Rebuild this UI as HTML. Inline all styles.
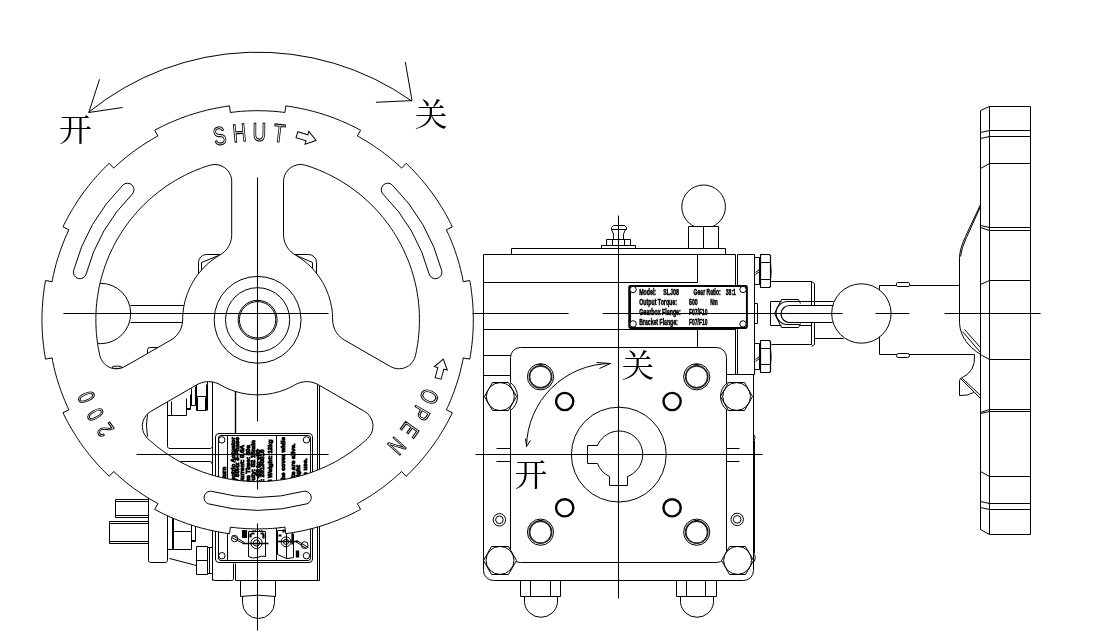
<!DOCTYPE html>
<html lang="zh"><head><meta charset="utf-8"><title>手轮蜗轮箱 开/关</title>
<style>
html,body{margin:0;padding:0;background:#fff}
body{width:1096px;height:642px;overflow:hidden;font-family:"Liberation Sans","Noto Sans CJK SC",sans-serif}
svg{display:block;will-change:transform}
.k{fill:none;stroke:#000;stroke-width:1}
.t{fill:none;stroke:#000;stroke-width:1}
.w{fill:#fff;stroke:#000;stroke-width:1}
.wb{fill:#fff;stroke:#000;stroke-width:1}
.b{fill:none;stroke:#000;stroke-width:1.6}
.c{fill:none;stroke:#000;stroke-width:1.05}
.ol{font-family:"Liberation Sans",sans-serif;fill:#fff;stroke:#000;stroke-width:.95;vector-effect:non-scaling-stroke}
.cn{font-family:"Liberation Serif","Noto Serif CJK SC",serif;font-size:31.5px;fill:#000}
.np{font-family:"Liberation Sans",sans-serif;font-weight:bold;font-size:8.4px;fill:#000;stroke:#000;stroke-width:.5}
.nv{font-family:"Liberation Sans",sans-serif;font-weight:bold;font-size:6.2px;fill:#000;stroke:#000;stroke-width:.9}
</style></head><body>
<svg width="1096" height="642" viewBox="0 0 1096 642">
<rect width="1096" height="642" fill="#fff"/>
<g id="left-back" class="k">
<!-- lever ball + shaft seen through upper-left opening -->
<circle cx="100.5" cy="313.5" r="30.2"/>
<path d="M130.5 305.5H190.5M130.5 322.5H190.5"/>
<!-- gearbox housing corners peeking behind hub -->
<path d="M198.5 330.5V262.5A8 8 0 0 1 206.5 254.5H308.5A8 8 0 0 1 316.5 262.5V330.5"/>
<path d="M201.5 272.5V262.5L218.5 255.5M312.5 272.5V262.5L296.5 255.5"/>
<path d="M147.5 355.5V349.5A2.5 2.5 0 0 1 150.5 347.5H159.5"/>
<ellipse cx="117" cy="367.3" rx="5" ry="1.2"/>
<path d="M147.5 414.5Q145.4 425 147.5 436.5"/>
<!-- actuator body seen through bottom opening -->
<path d="M212.5 380.5V580.5M317.5 380.5V580.5M319.5 380.5V580.5"/><path stroke-width="1.4" d="M235.5 388.5V433.5"/>
<path d="M207.5 380.5V410.5M212.5 446.5Q212.2 448 210.5 448.5H169.5Q167.3 448 167.5 446.5V400.5"/>
<path d="M167.5 415.5H186.5M171.5 415.5V401.5M186.5 415.5V398.5M186.5 409.5H190.5V394.5M186.5 408.5H190.5M191.5 405.5V388.5M195.5 405.5V386.5M190.5 405.5H195.5"/>
<path d="M196.5 384.5V410.5H206.5V384.5M196.5 396.5H206.5M197.5 397.5V410.5M205.5 397.5V410.5"/>
<path d="M180.5 461.5H210.5Q211.6 461.2 211.5 463.5"/>
<!-- name plate (vertical) -->
<clipPath id="npc"><rect x="218.5" y="436.5" width="93" height="90"/></clipPath>
<rect x="215.5" y="433.5" width="97" height="129" rx="3.5" fill="#fff"/>
<rect x="218.5" y="435.5" width="92" height="125" rx="2.5"/>
<path d="M227.5 435.5V560.5M276.5 435.5V560.5"/>
<circle cx="221.8" cy="439.9" r="3.2"/><circle cx="306.4" cy="439.9" r="3.2"/>
<circle cx="221.9" cy="555.7" r="3.2"/><circle cx="306.4" cy="555.7" r="3.2"/>
<g clip-path="url(#npc)">
<text class="nv" text-anchor="end" transform="translate(225.6 466.7) rotate(-90)">Type: SLQ Part-turn</text>
<text class="nv" text-anchor="end" transform="translate(234.6 437.1) rotate(-90)">Model: SLQ-20 Electric Actuator</text>
<text class="nv" text-anchor="end" transform="translate(239 437.1) rotate(-90)">Voltage: AC380V 50Hz 3-Phase</text>
<text class="nv" text-anchor="end" transform="translate(244.4 444.9) rotate(-90)">Power: 0.09kW Current: 0.6A</text>
<text class="nv" text-anchor="end" transform="translate(250.4 445) rotate(-90)">Torque: 200Nm Time: 30s</text>
<text class="nv" text-anchor="end" transform="translate(254.6 440.2) rotate(-90)">Enclosure: IP67 Duty: S2 15min</text>
<text class="nv" text-anchor="end" transform="translate(260 449.6) rotate(-90)">Ambient: -20 to +60</text>
<text class="nv" text-anchor="end" transform="translate(264 449.6) rotate(-90)">Serial No: 20130816</text>
<text class="nv" text-anchor="end" transform="translate(271.6 439.5) rotate(-90)">Date: 2013-08 Weight: 12kg</text>
<text class="nv" text-anchor="end" transform="translate(284.8 437.1) rotate(-90)">Do not open the cover while</text>
<text class="nv" text-anchor="end" transform="translate(294.8 443.4) rotate(-90)">the circuits are alive.</text>
<text class="nv" text-anchor="end" transform="translate(299.6 465.2) rotate(-90)">Keep tight</text>
<text class="nv" text-anchor="end" transform="translate(307.4 458.2) rotate(-90)">when in use.</text>
</g>
<!-- wiring symbols on lower part of plate -->
<circle cx="234.6" cy="538.6" r="3.2"/><path d="M231.5 537.5L243.5 543.5M232.5 535.5L244.5 542.5"/>
<rect x="242.5" y="530.5" width="4" height="7" fill="#000"/>
<path d="M248.5 531.5H265.5V556.5Q261 555.4 257.5 557.5Q252.4 559 248.5 556.5Z"/>
<circle cx="256.5" cy="543" r="5.6"/><circle cx="256.5" cy="543" r="3.1"/>
<path stroke-width="2.2" d="M250.5 533.5V537.5M251.5 533.5H254.5M263.5 533.5V538.5M260.5 533.5H263.5"/>
<path stroke-width="1.2" stroke-dasharray="1.2 1" d="M252.5 530.5H262.5"/>
<path stroke-width="1.5" d="M242.5 543.5H268.5"/>
<path d="M277.5 530.5H289.5L293.5 534.5V557.5Q290 558.4 286.5 558.5L277.5 554.5ZM286.5 531.5V558.5"/>
<circle cx="286" cy="541.8" r="4.9"/><circle cx="286" cy="541.8" r="2.6"/>
<path stroke-width="2.2" d="M278.5 535.5H281.5M283.5 529.5V532.5M292.5 533.5V544.5"/><path stroke-width="3.4" d="M297.5 550.5V557.5"/>
<path stroke-width="1.5" d="M277.5 541.5H298.5"/>
<circle cx="304.7" cy="545.1" r="3.4"/><path d="M296.5 540.5L308.5 547.5M295.5 541.5L306.5 548.5"/>
<!-- body below plate -->
<path d="M212.5 578.5Q212.7 580.4 214.5 580.5H231.5Q233.8 580.4 233.5 578.5V563.5M235.5 563.5V580.5H319.5"/>
<!-- bottom plug -->
<path d="M240.5 580.5V596.5M275.5 580.5V596.5M240.5 596.5Q258 593.8 275.5 596.5M242.5 596.5V602.5A16 16 0 0 0 274.5 602.5V596.5"/>
<!-- cable glands -->
<path d="M148.5 499.5H115.5V517.5H148.5M115.5 501.5H148.5M115.5 515.5H148.5M148.5 521.5H109.5V543.5H148.5M109.5 523.5H148.5M109.5 541.5H148.5"/>
<!-- left lower body -->
<path d="M148.5 495.5V560.5Q148 562 150.5 562.5H165.5Q167.6 562 167.5 560.5V500.5M172.5 500.5V549.5M167.5 549.5H173.5M169.5 558.5L196.5 565.5"/>
<path d="M173.5 505.5V549.5H191.5V505.5M173.5 531.5H191.5M191.5 541.5H195.5V520.5M191.5 540.5H195.5"/>
<path d="M196.5 546.5H207.5V574.5H196.5ZM196.5 560.5H207.5M207.5 547.5H212.5M207.5 573.5H212.5M209.5 547.5V573.5"/>

</g>
<g id="wheel">
<path class="w" fill-rule="evenodd" d="M284.9 112.5 L282.5 112.2 L280 111.9 L277.5 111.6 L275 111.4 L272.6 111.2 L270.1 111.1 L267.6 110.9 L265.1 110.8 L262.6 110.8 L260.1 110.7 L257.6 110.7 L255.2 110.7 L252.7 110.8 L250.2 110.8 L247.7 110.9 L245.2 111.1 L242.7 111.2 L240.3 111.4 L237.8 111.6 L235.3 111.9 L232.8 112.2 L230.4 112.5 L229.5 105.9 L227 106.3 L224.6 106.6 L222.2 107 L219.7 107.5 L217.3 107.9 L214.9 108.4 L212.5 108.9 L210 109.4 L207.6 110 L205.2 110.6 L202.8 111.2 L200.5 111.8 L198.1 112.5 L195.7 113.2 L193.3 113.9 L191 114.7 L188.6 115.4 L186.3 116.2 L184 117.1 L181.7 117.9 L179.4 118.8 L177.1 119.7 L174.8 120.7 L172.5 121.6 L170.2 122.6 L168 123.6 L165.7 124.7 L163.5 125.7 L161.3 126.8 L159.1 127.9 L156.9 129.1 L154.7 130.2 L157.9 136 L155.7 137.2 L153.5 138.5 L151.4 139.7 L149.2 141 L147.1 142.3 L145 143.6 L142.9 145 L140.9 146.4 L138.8 147.8 L136.8 149.2 L134.7 150.6 L132.7 152.1 L130.8 153.6 L128.8 155.1 L126.8 156.7 L124.9 158.2 L123 159.8 L121.1 161.4 L119.2 163.1 L117.4 164.7 L115.5 166.4 L113.7 168.1 L109.2 163.3 L107.4 165 L105.6 166.8 L103.9 168.5 L102.2 170.3 L100.5 172.1 L98.8 173.9 L97.1 175.7 L95.5 177.6 L93.9 179.4 L92.3 181.3 L90.7 183.2 L89.1 185.2 L87.6 187.1 L86.1 189.1 L84.6 191 L83.1 193 L81.7 195 L80.3 197 L78.9 199.1 L77.5 201.1 L76.2 203.2 L74.9 205.3 L73.6 207.4 L72.3 209.5 L71 211.6 L69.8 213.8 L68.6 215.9 L67.4 218.1 L66.3 220.3 L65.1 222.5 L64 224.7 L63 226.9 L68.9 229.8 L67.9 232 L66.8 234.3 L65.8 236.6 L64.8 238.9 L63.9 241.2 L63 243.5 L62.1 245.8 L61.2 248.1 L60.4 250.5 L59.6 252.8 L58.8 255.2 L58 257.6 L57.3 259.9 L56.6 262.3 L55.9 264.7 L55.3 267.1 L54.7 269.5 L54.1 272 L53.5 274.4 L53 276.8 L52.5 279.3 L52.1 281.7 L45.6 280.5 L45.1 282.9 L44.7 285.4 L44.3 287.8 L44 290.2 L43.7 292.7 L43.4 295.1 L43.1 297.6 L42.9 300.1 L42.6 302.5 L42.5 305 L42.3 307.5 L42.2 309.9 L42.1 312.4 L42 314.9 L42 317.3 L41.9 319.8 L42 322.3 L42 324.7 L42.1 327.2 L42.2 329.7 L42.3 332.1 L42.5 334.6 L42.6 337.1 L42.9 339.5 L43.1 342 L43.4 344.5 L43.7 346.9 L44 349.4 L44.3 351.8 L44.7 354.2 L45.1 356.7 L45.6 359.1 L52.1 357.9 L52.5 360.3 L53 362.8 L53.5 365.2 L54.1 367.6 L54.7 370.1 L55.3 372.5 L55.9 374.9 L56.6 377.3 L57.3 379.7 L58 382 L58.8 384.4 L59.6 386.8 L60.4 389.1 L61.2 391.5 L62.1 393.8 L63 396.1 L63.9 398.4 L64.8 400.7 L65.8 403 L66.8 405.3 L67.9 407.6 L68.9 409.8 L63 412.7 L64 414.9 L65.1 417.1 L66.3 419.3 L67.4 421.5 L68.6 423.7 L69.8 425.8 L71 428 L72.3 430.1 L73.6 432.2 L74.9 434.3 L76.2 436.4 L77.5 438.5 L78.9 440.5 L80.3 442.6 L81.7 444.6 L83.1 446.6 L84.6 448.6 L86.1 450.5 L87.6 452.5 L89.1 454.4 L90.7 456.4 L92.3 458.3 L93.9 460.2 L95.5 462 L97.1 463.9 L98.8 465.7 L100.5 467.5 L102.2 469.3 L103.9 471.1 L105.6 472.8 L107.4 474.6 L109.2 476.3 L113.7 471.5 L115.5 473.2 L117.4 474.9 L119.2 476.5 L121.1 478.2 L123 479.8 L124.9 481.4 L126.8 482.9 L128.8 484.5 L130.8 486 L132.7 487.5 L134.7 489 L136.8 490.4 L138.8 491.8 L140.9 493.2 L142.9 494.6 L145 496 L147.1 497.3 L149.2 498.6 L151.4 499.9 L153.5 501.1 L155.7 502.4 L157.9 503.6 L154.7 509.4 L156.9 510.5 L159.1 511.7 L161.3 512.8 L163.5 513.9 L165.7 514.9 L168 516 L170.2 517 L172.5 518 L174.8 518.9 L177.1 519.9 L179.4 520.8 L181.7 521.7 L184 522.5 L186.3 523.4 L188.6 524.2 L191 524.9 L193.3 525.7 L195.7 526.4 L198.1 527.1 L200.5 527.8 L202.8 528.4 L205.2 529 L207.6 529.6 L210 530.2 L212.5 530.7 L214.9 531.2 L217.3 531.7 L219.7 532.1 L222.2 532.6 L224.6 533 L227 533.3 L229.5 533.7 L230.4 527.1 L232.8 527.4 L235.3 527.7 L237.8 528 L240.3 528.2 L242.7 528.4 L245.2 528.5 L247.7 528.7 L250.2 528.8 L252.7 528.8 L255.2 528.9 L257.6 528.9 L260.1 528.9 L262.6 528.8 L265.1 528.8 L267.6 528.7 L270.1 528.5 L272.6 528.4 L275 528.2 L277.5 528 L280 527.7 L282.5 527.4 L284.9 527.1 L285.8 533.7 L288.3 533.3 L290.7 533 L293.1 532.6 L295.6 532.1 L298 531.7 L300.4 531.2 L302.8 530.7 L305.3 530.2 L307.7 529.6 L310.1 529 L312.5 528.4 L314.8 527.8 L317.2 527.1 L319.6 526.4 L322 525.7 L324.3 524.9 L326.7 524.2 L329 523.4 L331.3 522.5 L333.6 521.7 L335.9 520.8 L338.2 519.9 L340.5 518.9 L342.8 518 L345.1 517 L347.3 516 L349.6 514.9 L351.8 513.9 L354 512.8 L356.2 511.7 L358.4 510.5 L360.6 509.4 L357.4 503.6 L359.6 502.4 L361.8 501.1 L363.9 499.9 L366.1 498.6 L368.2 497.3 L370.3 496 L372.4 494.6 L374.4 493.2 L376.5 491.8 L378.5 490.4 L380.6 489 L382.6 487.5 L384.5 486 L386.5 484.5 L388.5 482.9 L390.4 481.4 L392.3 479.8 L394.2 478.2 L396.1 476.5 L397.9 474.9 L399.8 473.2 L401.6 471.5 L406.1 476.3 L407.9 474.6 L409.7 472.8 L411.4 471.1 L413.1 469.3 L414.8 467.5 L416.5 465.7 L418.2 463.9 L419.8 462 L421.4 460.2 L423 458.3 L424.6 456.4 L426.2 454.4 L427.7 452.5 L429.2 450.5 L430.7 448.6 L432.2 446.6 L433.6 444.6 L435 442.6 L436.4 440.5 L437.8 438.5 L439.1 436.4 L440.4 434.3 L441.7 432.2 L443 430.1 L444.3 428 L445.5 425.8 L446.7 423.7 L447.9 421.5 L449 419.3 L450.2 417.1 L451.3 414.9 L452.3 412.7 L446.4 409.8 L447.4 407.6 L448.5 405.3 L449.5 403 L450.5 400.7 L451.4 398.4 L452.3 396.1 L453.2 393.8 L454.1 391.5 L454.9 389.1 L455.7 386.8 L456.5 384.4 L457.3 382 L458 379.7 L458.7 377.3 L459.4 374.9 L460 372.5 L460.6 370.1 L461.2 367.6 L461.8 365.2 L462.3 362.8 L462.8 360.3 L463.2 357.9 L469.7 359.1 L470.2 356.7 L470.6 354.2 L471 351.8 L471.3 349.4 L471.6 346.9 L471.9 344.5 L472.2 342 L472.4 339.5 L472.7 337.1 L472.8 334.6 L473 332.1 L473.1 329.7 L473.2 327.2 L473.3 324.7 L473.3 322.3 L473.3 319.8 L473.3 317.3 L473.3 314.9 L473.2 312.4 L473.1 309.9 L473 307.5 L472.8 305 L472.7 302.5 L472.4 300.1 L472.2 297.6 L471.9 295.1 L471.6 292.7 L471.3 290.2 L471 287.8 L470.6 285.4 L470.2 282.9 L469.7 280.5 L463.2 281.7 L462.8 279.3 L462.3 276.8 L461.8 274.4 L461.2 272 L460.6 269.5 L460 267.1 L459.4 264.7 L458.7 262.3 L458 259.9 L457.3 257.6 L456.5 255.2 L455.7 252.8 L454.9 250.5 L454.1 248.1 L453.2 245.8 L452.3 243.5 L451.4 241.2 L450.5 238.9 L449.5 236.6 L448.5 234.3 L447.4 232 L446.4 229.8 L452.3 226.9 L451.3 224.7 L450.2 222.5 L449 220.3 L447.9 218.1 L446.7 215.9 L445.5 213.8 L444.3 211.6 L443 209.5 L441.7 207.4 L440.4 205.3 L439.1 203.2 L437.8 201.1 L436.4 199.1 L435 197 L433.6 195 L432.2 193 L430.7 191 L429.2 189.1 L427.7 187.1 L426.2 185.2 L424.6 183.2 L423 181.3 L421.4 179.4 L419.8 177.6 L418.2 175.7 L416.5 173.9 L414.8 172.1 L413.1 170.3 L411.4 168.5 L409.7 166.8 L407.9 165 L406.1 163.3 L401.6 168.1 L399.8 166.4 L397.9 164.7 L396.1 163.1 L394.2 161.4 L392.3 159.8 L390.4 158.2 L388.5 156.7 L386.5 155.1 L384.5 153.6 L382.6 152.1 L380.6 150.6 L378.5 149.2 L376.5 147.8 L374.4 146.4 L372.4 145 L370.3 143.6 L368.2 142.3 L366.1 141 L363.9 139.7 L361.8 138.5 L359.6 137.2 L357.4 136 L360.6 130.2 L358.4 129.1 L356.2 127.9 L354 126.8 L351.8 125.7 L349.6 124.7 L347.3 123.6 L345.1 122.6 L342.8 121.6 L340.5 120.7 L338.2 119.7 L335.9 118.8 L333.6 117.9 L331.3 117.1 L329 116.2 L326.7 115.4 L324.3 114.7 L322 113.9 L319.6 113.2 L317.2 112.5 L314.8 111.8 L312.5 111.2 L310.1 110.6 L307.7 110 L305.3 109.4 L302.8 108.9 L300.4 108.4 L298 107.9 L295.6 107.5 L293.1 107 L290.7 106.6 L288.3 106.3 L285.8 105.9ZM220.2 254.8 L222.2 253.5 L224.1 252 L225.8 250.3 L227.3 248.4 L228.6 246.4 L229.7 244.2 L230.6 241.9 L231.2 239.6 L231.6 237.2 L231.7 234.8 L231.7 181.5 L231.5 178.3 L230.6 175.3 L229.1 172.4 L227.2 169.9 L224.8 167.8 L222.1 166.2 L219.1 165.1 L216 164.5 L212.8 164.6 L209.7 165.3 L207.3 166 L205 166.8 L202.6 167.6 L200.3 168.5 L198 169.4 L195.7 170.3 L193.4 171.3 L191.1 172.3 L188.8 173.4 L186.6 174.4 L184.4 175.5 L182.2 176.7 L180 177.9 L177.8 179.1 L175.6 180.3 L173.5 181.6 L171.4 182.9 L169.3 184.3 L167.2 185.6 L165.1 187 L163.1 188.5 L161.1 190 L159.1 191.5 L157.2 193 L155.2 194.6 L153.3 196.1 L151.4 197.8 L149.5 199.4 L147.7 201.1 L145.9 202.8 L144.1 204.5 L142.3 206.3 L140.6 208.1 L138.9 209.9 L137.2 211.7 L135.6 213.6 L134 215.5 L132.4 217.4 L130.8 219.3 L129.3 221.3 L127.8 223.3 L126.3 225.3 L124.9 227.3 L123.5 229.4 L122.1 231.5 L120.7 233.6 L119.4 235.7 L118.2 237.8 L116.9 240 L115.7 242.2 L114.5 244.3 L113.4 246.6 L112.3 248.8 L111.2 251 L110.1 253.3 L109.1 255.6 L108.2 257.9 L107.2 260.2 L106.3 262.5 L105.5 264.8 L104.6 267.2 L103.9 269.5 L103.1 271.9 L102.4 274.3 L101.7 276.7 L101.1 279.1 L100.4 281.5 L99.9 283.9 L99.3 286.4 L98.8 288.8 L98.4 291.3 L98 293.7 L97.6 296.2 L97.2 298.6 L96.9 301.1 L96.7 303.6 L96.4 306.1 L96.2 308.5 L96.1 311 L96 313.5 L95.9 316 L95.9 318.5 L95.9 321 L95.9 323.5 L96 326 L96.1 328.5 L96.2 330.9 L96.4 333.4 L96.7 335.9 L96.9 338.4 L97.2 340.9 L97.6 343.3 L97.9 345.8 L98.4 348.2 L98.8 350.7 L99.3 353.1 L99.8 355.6 L100.8 358.6 L102.4 361.4 L104.4 363.8 L106.8 365.8 L109.6 367.4 L112.6 368.4 L115.8 368.8 L119 368.6 L122 367.8 L124.9 366.5 L171.1 339.9 L173.1 338.6 L175 337 L176.7 335.3 L178.2 333.4 L179.6 331.4 L180.7 329.2 L181.5 327 L182.1 324.6 L182.5 322.3 L182.7 319.8 L182.7 317.4 L182.8 314.9 L183 312.5 L183.3 310 L183.6 307.6 L184.1 305.2 L184.6 302.8 L185.2 300.4 L185.9 298 L186.6 295.7 L187.5 293.4 L188.4 291.1 L189.3 288.9 L190.4 286.6 L191.5 284.4 L192.7 282.3 L194 280.2 L195.3 278.1 L196.7 276.1 L198.2 274.1 L199.7 272.2 L201.3 270.3 L202.9 268.5 L204.6 266.8 L206.4 265 L208.2 263.4 L210.1 261.8 L212 260.3 L214 258.8 L216 257.4 L218.1 256.1ZM332.6 319.8 L332.8 322.3 L333.2 324.6 L333.8 327 L334.6 329.2 L335.7 331.4 L337.1 333.4 L338.6 335.3 L340.3 337 L342.2 338.6 L344.2 339.9 L390.4 366.5 L393.3 367.8 L396.3 368.6 L399.5 368.8 L402.7 368.4 L405.7 367.4 L408.5 365.8 L410.9 363.8 L412.9 361.4 L414.5 358.6 L415.5 355.6 L416 353.1 L416.5 350.7 L416.9 348.2 L417.4 345.8 L417.7 343.3 L418.1 340.9 L418.4 338.4 L418.6 335.9 L418.9 333.4 L419.1 330.9 L419.2 328.5 L419.3 326 L419.4 323.5 L419.4 321 L419.4 318.5 L419.4 316 L419.3 313.5 L419.2 311 L419.1 308.5 L418.9 306.1 L418.6 303.6 L418.4 301.1 L418.1 298.6 L417.7 296.2 L417.3 293.7 L416.9 291.3 L416.5 288.8 L416 286.4 L415.4 283.9 L414.9 281.5 L414.2 279.1 L413.6 276.7 L412.9 274.3 L412.2 271.9 L411.4 269.5 L410.7 267.2 L409.8 264.8 L409 262.5 L408.1 260.2 L407.1 257.9 L406.2 255.6 L405.2 253.3 L404.1 251 L403 248.8 L401.9 246.6 L400.8 244.3 L399.6 242.2 L398.4 240 L397.1 237.8 L395.9 235.7 L394.6 233.6 L393.2 231.5 L391.8 229.4 L390.4 227.3 L389 225.3 L387.5 223.3 L386 221.3 L384.5 219.3 L382.9 217.4 L381.3 215.5 L379.7 213.6 L378.1 211.7 L376.4 209.9 L374.7 208.1 L373 206.3 L371.2 204.5 L369.4 202.8 L367.6 201.1 L365.8 199.4 L363.9 197.8 L362 196.1 L360.1 194.6 L358.1 193 L356.2 191.5 L354.2 190 L352.2 188.5 L350.2 187 L348.1 185.6 L346 184.3 L343.9 182.9 L341.8 181.6 L339.7 180.3 L337.5 179.1 L335.3 177.9 L333.1 176.7 L330.9 175.5 L328.7 174.4 L326.5 173.4 L324.2 172.3 L321.9 171.3 L319.6 170.3 L317.3 169.4 L315 168.5 L312.7 167.6 L310.3 166.8 L308 166 L305.6 165.3 L302.5 164.6 L299.3 164.5 L296.2 165.1 L293.2 166.2 L290.5 167.8 L288.1 169.9 L286.2 172.4 L284.7 175.3 L283.8 178.3 L283.5 181.5 L283.5 234.8 L283.7 237.2 L284.1 239.6 L284.7 241.9 L285.6 244.2 L286.7 246.4 L288 248.4 L289.5 250.3 L291.2 252 L293.1 253.5 L295.1 254.8 L297.2 256.1 L299.3 257.4 L301.3 258.8 L303.3 260.3 L305.2 261.8 L307.1 263.4 L308.9 265 L310.7 266.8 L312.4 268.5 L314 270.3 L315.6 272.2 L317.1 274.1 L318.6 276.1 L320 278.1 L321.3 280.2 L322.6 282.3 L323.8 284.4 L324.9 286.6 L326 288.9 L326.9 291.1 L327.8 293.4 L328.7 295.7 L329.4 298 L330.1 300.4 L330.7 302.8 L331.2 305.2 L331.7 307.6 L332 310 L332.3 312.5 L332.5 314.9 L332.6 317.4ZM220.1 384.7 L218 383.6 L215.7 382.8 L213.4 382.1 L211 381.8 L208.6 381.6 L206.1 381.8 L203.7 382.1 L201.4 382.8 L199.1 383.6 L197 384.7 L150.8 411.4 L148.2 413.2 L146 415.5 L144.3 418.2 L143.1 421.1 L142.4 424.2 L142.4 427.4 L142.9 430.5 L144 433.5 L145.7 436.2 L147.8 438.6 L149.6 440.3 L151.5 441.9 L153.4 443.5 L155.3 445.1 L157.2 446.7 L159.2 448.2 L161.2 449.7 L163.2 451.2 L165.2 452.6 L167.3 454 L169.4 455.4 L171.5 456.7 L173.6 458 L175.7 459.3 L177.9 460.6 L180.1 461.8 L182.2 463 L184.5 464.1 L186.7 465.2 L188.9 466.3 L191.2 467.3 L193.5 468.3 L195.8 469.3 L198.1 470.2 L200.4 471.1 L202.7 472 L205.1 472.8 L207.4 473.6 L209.8 474.4 L212.2 475.1 L214.6 475.8 L217 476.4 L219.4 477 L221.8 477.6 L224.3 478.1 L226.7 478.6 L229.2 479.1 L231.6 479.5 L234.1 479.9 L236.5 480.2 L239 480.5 L241.5 480.8 L244 481 L246.5 481.2 L248.9 481.4 L251.4 481.5 L253.9 481.6 L256.4 481.6 L258.9 481.6 L261.4 481.6 L263.9 481.5 L266.4 481.4 L268.8 481.2 L271.3 481 L273.8 480.8 L276.3 480.5 L278.8 480.2 L281.2 479.9 L283.7 479.5 L286.1 479.1 L288.6 478.6 L291 478.1 L293.5 477.6 L295.9 477 L298.3 476.4 L300.7 475.8 L303.1 475.1 L305.5 474.4 L307.9 473.6 L310.2 472.8 L312.6 472 L314.9 471.1 L317.2 470.2 L319.5 469.3 L321.8 468.3 L324.1 467.3 L326.4 466.3 L328.6 465.2 L330.8 464.1 L333.1 463 L335.2 461.8 L337.4 460.6 L339.6 459.3 L341.7 458 L343.8 456.7 L345.9 455.4 L348 454 L350.1 452.6 L352.1 451.2 L354.1 449.7 L356.1 448.2 L358.1 446.7 L360 445.1 L361.9 443.5 L363.8 441.9 L365.7 440.3 L367.5 438.6 L369.6 436.2 L371.3 433.5 L372.4 430.5 L372.9 427.4 L372.9 424.2 L372.2 421.1 L371 418.2 L369.3 415.5 L367.1 413.2 L364.5 411.4 L318.3 384.7 L316.2 383.6 L313.9 382.8 L311.6 382.1 L309.2 381.8 L306.7 381.6 L304.3 381.8 L301.9 382.1 L299.6 382.8 L297.3 383.6 L295.2 384.7 L293 385.9 L290.8 387.1 L288.6 388.1 L286.4 389.1 L284.1 390 L281.8 390.8 L279.4 391.6 L277.1 392.2 L274.7 392.8 L272.3 393.4 L269.9 393.8 L267.4 394.2 L265 394.4 L262.6 394.6 L260.1 394.8 L257.6 394.8 L255.2 394.8 L252.7 394.6 L250.3 394.4 L247.9 394.2 L245.4 393.8 L243 393.4 L240.6 392.8 L238.2 392.2 L235.9 391.6 L233.5 390.8 L231.2 390 L228.9 389.1 L226.7 388.1 L224.5 387.1 L222.3 385.9Z"/>
<path class="w" d="M208.3 503.8A190.5 190.5 0 0 0 307 503.8A6.5 6.5 0 0 0 303.6 491.3A177.5 177.5 0 0 1 211.7 491.3A6.5 6.5 0 0 0 208.3 503.8ZM441.7 270.5A190.5 190.5 0 0 0 392.4 185.1A6.5 6.5 0 0 0 383.2 194.3A177.5 177.5 0 0 1 429.1 273.9A6.5 6.5 0 0 0 441.7 270.5ZM122.9 185.1A190.5 190.5 0 0 0 73.6 270.5A6.5 6.5 0 0 0 86.2 273.9A177.5 177.5 0 0 1 132.1 194.3A6.5 6.5 0 0 0 122.9 185.1Z"/>
<circle class="t" cx="257.6" cy="319.8" r="43.4"/>
<circle class="k" cx="257.6" cy="319.8" r="32.1"/>
<circle class="t" cx="257.6" cy="319.8" r="18.2"/>
<circle class="t" cx="257.6" cy="319.8" r="19.5"/>
<text transform="translate(221.4 144.5) rotate(-11.7) scale(0.74 1)" font-size="25.5" text-anchor="middle" class="ol">S</text>
<text transform="translate(240.2 141.7) rotate(-5.6) scale(0.74 1)" font-size="25.5" text-anchor="middle" class="ol">H</text>
<text transform="translate(259.2 140.8) rotate(0.5) scale(0.74 1)" font-size="25.5" text-anchor="middle" class="ol">U</text>
<text transform="translate(278.2 142) rotate(6.6) scale(0.74 1)" font-size="25.5" text-anchor="middle" class="ol">T</text>
<path transform="translate(306.5 137.6) rotate(16.5)" d="M-10 -3.1H0.5V-6.7L10 0L0.5 6.7V3.1H-10Z" class="w"/>
<text transform="translate(421.6 393.1) rotate(114.1) scale(0.73 1)" font-size="24" text-anchor="middle" class="ol">O</text>
<text transform="translate(413.5 409.1) rotate(119.8) scale(0.73 1)" font-size="24" text-anchor="middle" class="ol">P</text>
<text transform="translate(403.1 425.1) rotate(125.9) scale(0.73 1)" font-size="24" text-anchor="middle" class="ol">E</text>
<text transform="translate(390.7 440.4) rotate(132.2) scale(0.73 1)" font-size="24" text-anchor="middle" class="ol">N</text>
<path transform="translate(440.7 368.8) rotate(285)" d="M-10 -3.1H0.5V-6.7L10 0L0.5 6.7V3.1H-10Z" class="w"/>
<text transform="translate(112 425.2) rotate(234.1) scale(0.74 1)" font-size="23.5" text-anchor="middle" class="ol">2</text>
<text transform="translate(102.3 410.2) rotate(239.8) scale(0.74 1)" font-size="23.5" text-anchor="middle" class="ol">0</text>
<text transform="translate(93.8 393.8) rotate(245.7) scale(0.74 1)" font-size="23.5" text-anchor="middle" class="ol">0</text>
</g>
<g id="dir-left">
<path class="t" d="M88.5 112.4A267.6 267.6 0 0 1 411.9 101.1"/>
<path class="t" d="M99.5 79.3L88.8 112.5L122.5 107.5"/>
<path class="t" d="M405.3 61.9L412 100.6L375.9 102.3"/>
<text class="cn" transform="translate(59 141.4) scale(1.04 1)">开</text>
<text class="cn" transform="translate(414.8 126.2) scale(1.04 1)">关</text>
</g>
<g id="right-view" class="k">
<!-- lifting ball -->
<circle cx="703.6" cy="206.8" r="21.8" class="t"/>
<path class="wb" d="M688.5 248.5V226.5H718.5V248.5"/><path d="M703.5 226.5V248.5"/>
<!-- gearbox body -->
<path d="M483.5 254.5V570.5A10 10 0 0 0 493.5 580.5H743.5A10 10 0 0 0 753.5 570.5V374.5"/>
<path d="M483.5 254.5H735.5M511.5 254.5V248.5H725.5V254.5M483.5 282.5H697.5V254.5M483.5 329.5H735.5M697.5 329.5V347.5"/>
<path d="M735.5 254.5V374.5M737.5 254.5V374.5M737.5 254.5H754.5V374.5M726.5 374.5H754.5"/>
<path d="M483.5 355.5H510.5M483.5 375.5H510.5"/>
<path d="M753.5 434.5Q756.6 437.5 753.5 440.5M753.5 553.5Q757 557.5 753.5 562.5M754.5 440.5V553.5"/>
<!-- mounting flange plate -->
<rect x="510.5" y="347.5" width="216" height="215" rx="10"/>
<path class="wb" d="M510.5 382.5A17.5 17.5 0 0 1 510.5 410.5M727.5 382.5A17.5 17.5 0 0 0 727.5 410.5"/>
<!-- hex bolts -->
<g class="wb">
<path d="M484.5 396.5L492.5 382.5H508.5L516.5 396.5L508.5 410.5H492.5Z"/><circle cx="500.3" cy="396.6" r="14" class="t"/>
<path d="M720.5 396.5L728.5 382.5H744.5L752.5 396.5L744.5 410.5H728.5Z"/><circle cx="736.6" cy="396.5" r="13.9" class="t"/>
<path d="M483.5 560.5L491.5 546.5H508.5L516.5 560.5L508.5 574.5H491.5Z"/><circle cx="500" cy="560.4" r="14" class="t"/>
<path d="M721.5 560.5L729.5 546.5H745.5L753.5 560.5L745.5 574.5H729.5Z"/><circle cx="737.6" cy="560.4" r="14" class="t"/>
</g>
<!-- through holes -->
<circle cx="540.5" cy="376.8" r="13.1" class="t"/><circle cx="540.5" cy="376.8" r="11" stroke-width="1.7" stroke="#222"/>
<circle cx="696.7" cy="376.8" r="13.1" class="t"/><circle cx="696.7" cy="376.8" r="11" stroke-width="1.7" stroke="#222"/>
<circle cx="540.5" cy="532.2" r="13.1" class="t"/><circle cx="540.5" cy="532.2" r="11" stroke-width="1.7" stroke="#222"/>
<circle cx="696.7" cy="532.2" r="13.1" class="t"/><circle cx="696.7" cy="532.2" r="11" stroke-width="1.7" stroke="#222"/>
<path d="M538.5 364.5H542.5M694.5 364.5H698.5M538.5 520.5H542.5M694.5 520.5H698.5"/>
<!-- threaded holes -->
<circle cx="564.7" cy="401.5" r="8.6" stroke-width="2.4"/><circle cx="672.1" cy="401.5" r="8.6" stroke-width="2.4"/>
<circle cx="564.7" cy="507.8" r="8.6" stroke-width="2.4"/><circle cx="672.1" cy="507.8" r="8.6" stroke-width="2.4"/>
<!-- dowel pins -->
<circle cx="499.4" cy="519.8" r="6.2" class="t"/><circle cx="499.4" cy="519.8" r="3.8" class="t"/>
<circle cx="737.2" cy="519.4" r="6.2" class="t"/><circle cx="737.2" cy="519.4" r="3.8" class="t"/>
<path d="M496.5 448.5H510.5M496.5 461.5H510.5M726.5 448.5H739.5M726.5 461.5H739.5"/>
<!-- output shaft bore with keyways -->
<circle cx="618.8" cy="454.6" r="47.4" class="t"/>
<path d="M597.5 445.5H587.5V463.5H597.5A23.5 23.5 0 0 0 609.5 476.5V485.5H627.5V476.5A23.5 23.5 0 1 0 597.5 445.5Z"/>
<!-- open/close arc -->
<path class="t" d="M610.5 363.5A84.6 84.6 0 0 0 526.5 446.5M596.5 362.5L610.5 363.5L599.5 368.5M525.5 438.5L526.5 446.5L530.5 440.5"/>
<text class="cn" transform="translate(621.4 377.2) scale(1.04 1)" stroke="none">关</text>
<text class="cn" transform="translate(514.4 485.8) scale(1.04 1)" stroke="none">开</text>
<!-- drain plugs -->
<path d="M520.5 580.5V596.5H560.5V580.5M530.5 580.5V596.5M550.5 580.5V596.5M524.5 596.5V602.5A16.6 16.6 0 0 0 557.5 602.5V596.5"/>
<path d="M676.5 580.5V596.5H716.5V580.5M686.5 580.5V596.5M705.5 580.5V596.5M680.5 596.5V602.5A16.6 16.6 0 0 0 713.5 602.5V596.5"/>
<!-- grease nipple -->
<path d="M601.5 248.5V245.5H635.5V248.5M606.5 245.5V239.5H630.5V245.5M612.5 239.5V245.5M624.5 239.5V245.5"/>
<path d="M613.5 239.5Q614.6 234 611.5 229.5M623.5 239.5Q622.4 234 625.5 229.5M611.5 229.5H626.5V227.5L624.5 225.5H613.5L611.5 227.5Z"/>
<!-- name plate -->
<rect y="286" x="629.2" height="42" width="117.7" rx="1.2" fill="#fff" stroke-width="1.9"/>
<path d="M630.5 288.5V326.5" class="t"/>
<g class="wb"><circle cx="633.1" cy="289.5" r="3.2"/><circle cx="743" cy="289.5" r="3.2"/><circle cx="633.1" cy="323.9" r="3.2"/><circle cx="743" cy="323.9" r="3.2"/></g>
<g>
<text class="np" x="639.2" y="295.4" textLength="16.9" lengthAdjust="spacingAndGlyphs">Model:</text>
<text class="np" x="663.2" y="295.4" textLength="15.8" lengthAdjust="spacingAndGlyphs">SLJ08</text>
<text class="np" x="693.6" y="295.4" textLength="27.2" lengthAdjust="spacingAndGlyphs">Gear Ratio:</text>
<text class="np" x="725.8" y="295.4" textLength="10.1" lengthAdjust="spacingAndGlyphs">38:1</text>
<text class="np" x="639.2" y="304.9" textLength="37.8" lengthAdjust="spacingAndGlyphs">Output Torque:</text>
<text class="np" x="689.1" y="304.9" textLength="8.5" lengthAdjust="spacingAndGlyphs">500</text>
<text class="np" x="710.2" y="304.9" textLength="7.6" lengthAdjust="spacingAndGlyphs">Nm</text>
<text class="np" x="639.2" y="314.6" textLength="41.6" lengthAdjust="spacingAndGlyphs">Gearbox Flange:</text>
<text class="np" x="689.1" y="314.6" textLength="18.3" lengthAdjust="spacingAndGlyphs">F07/F10</text>
<text class="np" x="639.2" y="324.5" textLength="38.6" lengthAdjust="spacingAndGlyphs">Bracket Flange:</text>
<text class="np" x="689.1" y="324.5" textLength="18.3" lengthAdjust="spacingAndGlyphs">F07/F10</text>
</g>
<!-- flange studs with nuts -->
<path d="M754.5 257.5H759.5V284.5H754.5M755.5 272.5L759.5 269.5M755.5 274.5L759.5 271.5M755.5 359.5L759.5 356.5M755.5 361.5L759.5 358.5M754.5 343.5H759.5V369.5H754.5M754.5 303.5H757.5V323.5H754.5"/>
<path stroke-width="1.2" d="M760.5 254.5H769.5L770.5 255.5V286.5L769.5 287.5H760.5ZM760.5 262.5H770.5M760.5 279.5H770.5M760.5 340.5H769.5L770.5 341.5V371.5L769.5 372.5H760.5ZM760.5 348.5H770.5M760.5 364.5H770.5"/>
<path class="t" d="M770.5 263.5Q771.8 271 770.5 279.5M770.5 349.5Q771.8 356.5 770.5 364.5"/>
<!-- lever bracket -->
<path d="M771.5 281.5H811.5L814.5 283.5V305.5M814.5 322.5V344.5L811.5 346.5M811.5 281.5V305.5M811.5 322.5V344.5H771.5M781.5 301.5H770.5V325.5H781.5M799.5 325.5H811.5M814.5 338.5H843.5"/>
<path d="M774.5 313.5L781.5 299.5H798.5L800.5 303.5M774.5 313.5L781.5 327.5H798.5L800.5 323.5"/>
<path stroke-width="1.2" d="M833.5 301.5H787.5A11.5 11.5 0 0 0 787.5 324.5H799.5M833.5 305.5H789.5A8.5 8.5 0 0 0 789.5 322.5H832.5"/>
<!-- hub block of hand-wheel + lever ball -->
<path d="M879.5 285.5V354.5H974.5M879.5 285.5H959.5"/>
<rect x="896.5" y="282.5" width="13" height="4" rx="1.2" class="w"/><rect x="896.5" y="353.5" width="13" height="4" rx="1.9" class="w"/>
<circle cx="861.4" cy="313.5" r="29.7" class="w"/>

</g>
<g id="side-wheel" class="k">
<!-- rim -->
<path class="wb" d="M989.5 106.5H1030.5V534.5H989.5L980.5 529.5V110.5Z"/>
<path d="M989.5 106.5V534.5"/>
<path d="M989.5 130.5H1030.5M989.5 136.5H1030.5M989.5 163.5H1030.5M989.5 227.5H1030.5M989.5 230.5H1030.5M989.5 280.5H1030.5M989.5 359.5H1030.5M989.5 409.5H1030.5M989.5 411.5H1030.5M989.5 476.5H1030.5M989.5 503.5H1030.5M989.5 509.5H1030.5"/>
<path d="M980.5 132.5L989.5 130.5M980.5 138.5L989.5 136.5M980.5 168.5L989.5 163.5M980.5 225.5L989.5 227.5M980.5 227.5L989.5 230.5M980.5 284.5L989.5 280.5M980.5 413.5L989.5 411.5M980.5 412.5L989.5 409.5M980.5 471.5L989.5 476.5M980.5 501.5L989.5 503.5M980.5 507.5L989.5 509.5"/>
<!-- hub / spoke profile -->
<path d="M980.5 204.5L965.5 236.5Q960.2 248 959.5 256.5V322.5Q960 345 989.5 359.5M980.5 206.5L966.5 237.5Q961.4 248 960.5 256.5"/>
<path d="M962.5 331.5L980.5 352.5M964.5 329.5L980.5 347.5"/>
<path d="M974.5 354.5Q976 372 960.5 378.5L959.5 380.5V395.5Q968 396 973.5 392.5M960.5 378.5L980.5 398.5M962.5 378.5L980.5 395.5"/>

</g>
<g id="centre" class="c">
<!-- left view -->
<path d="M63.5 313.5H328.5M257.5 177.5V421.5M257.5 448.5V489.5M257.5 523.5V630.5M136.5 454.5H328.5"/>
<!-- right view -->
<path d="M472.5 313.5H568.5M602.5 313.5H842.5M875.5 313.5H909.5M944.5 313.5H1040.5M618.5 215.5V598.5M475.5 454.5H762.5"/>

</g>
</svg></body></html>
